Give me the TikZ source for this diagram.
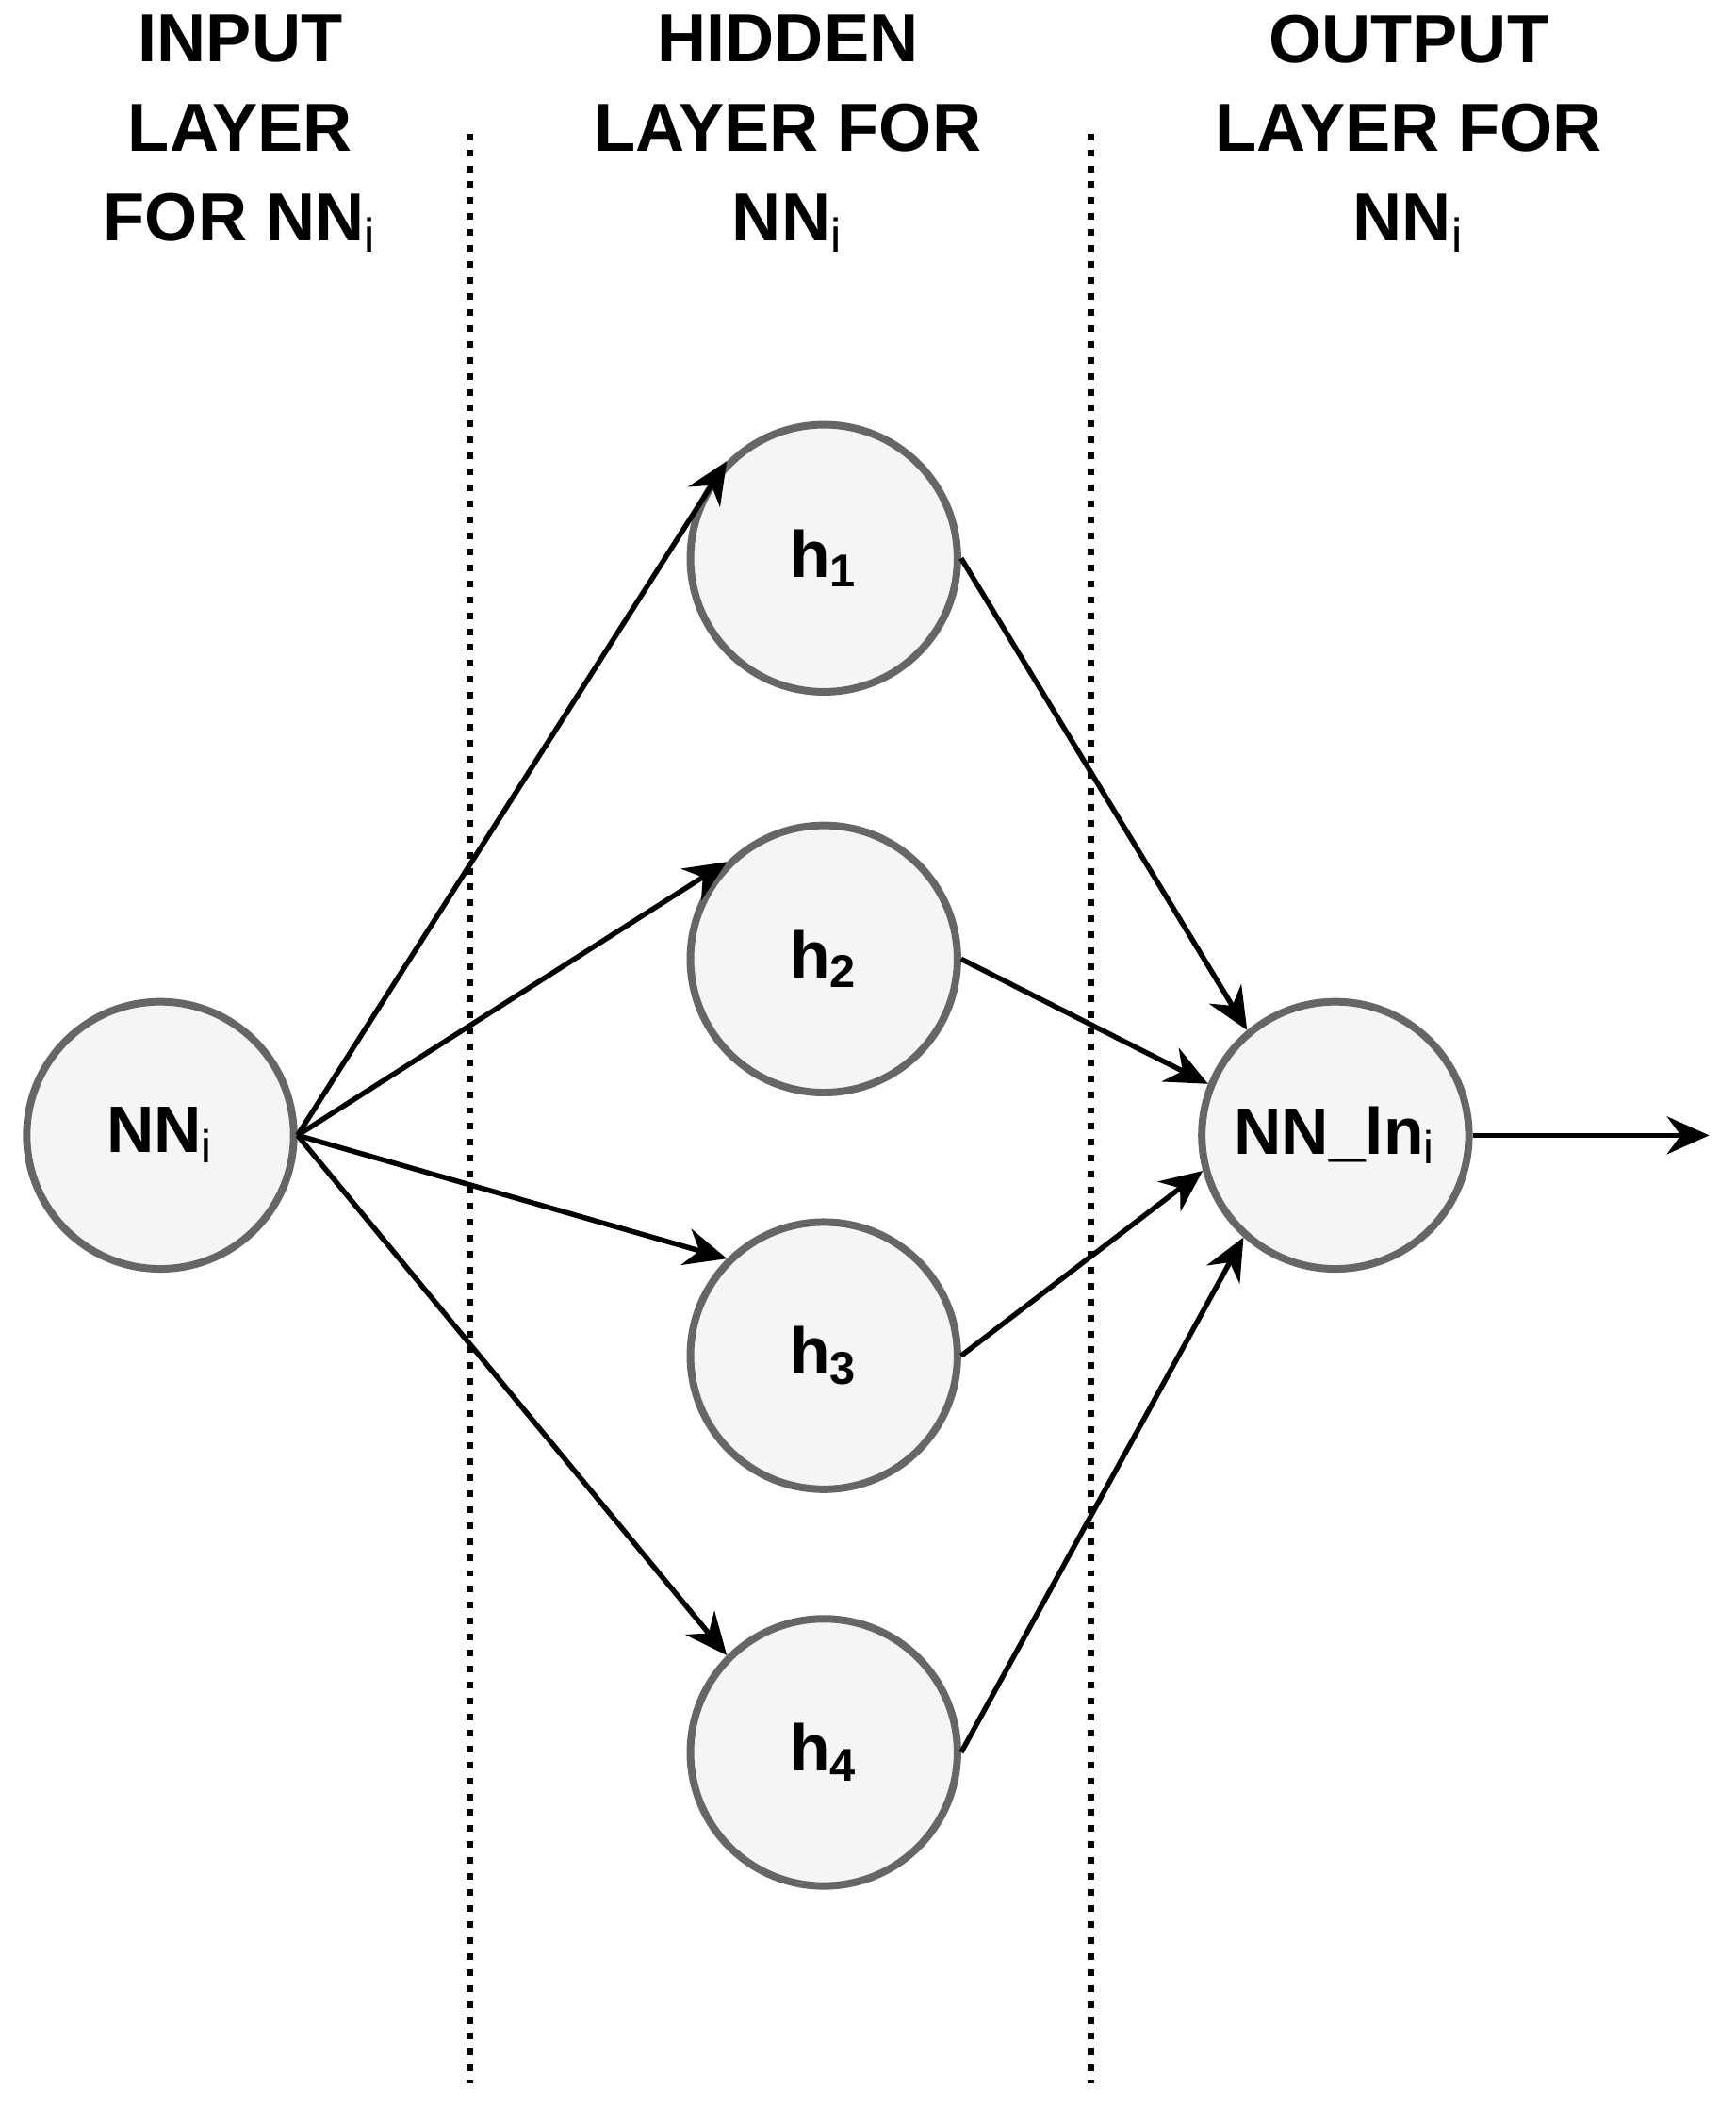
\documentclass[tikz,border=0pt]{standalone}
\usepackage{fontspec}
\setmainfont{Liberation Sans}
\usetikzlibrary{positioning, arrows.meta}
\definecolor{nodefill}{HTML}{F5F5F5}
\definecolor{nodeline}{HTML}{666666}
\tikzset{
  neuron/.style={circle, draw=nodeline, fill=nodefill, line width=1.6pt, minimum size=2cm, inner sep=0pt, font=\bfseries\fontsize{14}{17}\selectfont},
  head/.style={align=center, font=\bfseries\fontsize{14.5}{17}\selectfont},
  link/.style={-{Stealth[length=9pt, width=8pt]}, line width=1.1pt},
  sep/.style={dotted, line width=1.4pt}
}
\begin{document}
\begin{tikzpicture}[yscale=-1]
               \useasboundingbox (0,0) rectangle (13,15.76);
               % layer headings
               \node[head] (t1) at (1.8,1.0) {INPUT\\[2pt]LAYER\\[2pt]FOR NN$_{\mathrm{i}}$};
               \node[head] (t2) at (5.9,1.0) {HIDDEN\\[2pt]LAYER FOR\\[2pt]NN$_{\mathrm{i}}$};
               \node[head] (t3) at (10.55,1.0) {OUTPUT\\[2pt]LAYER FOR\\[2pt]NN$_{\mathrm{i}}$};
               % separators
               \coordinate (s1a) at (3.52,1.0); \coordinate (s1b) at (3.52,15.6);
               \coordinate (s2a) at (8.17,1.0); \coordinate (s2b) at (8.17,15.6);
               \draw[sep] (s1a) -- (s1b);
               \draw[sep] (s2a) -- (s2b);
               % neurons
               \node[neuron] (in) at (1.2,8.5) {NN$_{\mathrm{i}}$};
               \node[neuron] (h1) at (6.17,4.18) {h$_{\mathbf{1}}$};
               \node[neuron] (h2) at (6.17,7.18) {h$_{\mathbf{2}}$};
               \node[neuron] (h3) at (6.17,10.15) {h$_{\mathbf{3}}$};
               \node[neuron] (h4) at (6.17,13.12) {h$_{\mathbf{4}}$};
               \node[neuron] (out) at (10.0,8.5) {NN\_ln$_{\mathrm{i}}$};
               \coordinate (end) at (12.8,8.5);
               % connections
               \foreach \h in {h1,h2,h3,h4}
                    \draw[link] (in.east) -- (\h.135);
               \draw[link] (h1.east) -- (out.130);
               \draw[link] (h2.east) -- (out.158);
               \draw[link] (h3.east) -- (out.195);
               \draw[link] (h4.east) -- (out.228);
               \draw[link] (out.east) -- (end);
          \end{tikzpicture}
\end{document}
